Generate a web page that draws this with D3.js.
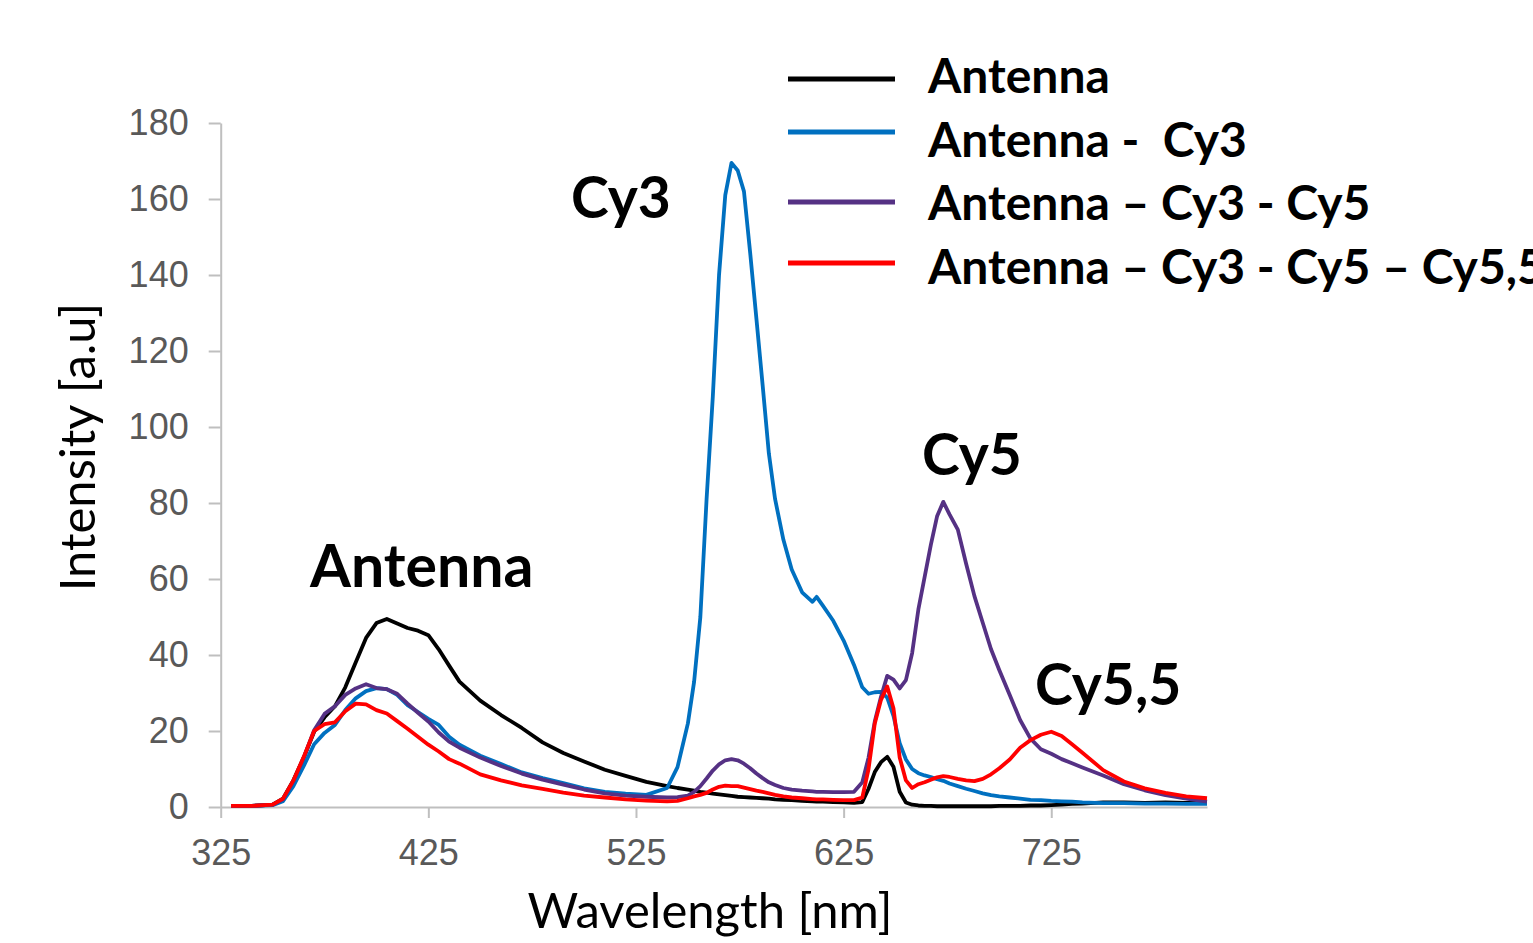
<!DOCTYPE html>
<html>
<head>
<meta charset="utf-8">
<script src="https://cdn.jsdelivr.net/npm/d3@7"></script>
<style>
  body { margin: 0; background: #fff; }
</style>
</head>
<body>
<svg id="chart" width="1533" height="943"></svg>
<script>
// wavelength grid (nm)
var wavelength = [
  330,340,350,355,360,365,370,375,380,385,
  390,395,400,405,410,415,420,425,430,435,
  440,450,460,470,480,490,500,510,520,530,
  540,545,550,553,556,559,562,565,568,571,
  574,577,580,583,586,589,592,596,600,605,
  610,612,615,620,625,630,634,637,640,643,
  646,649,652,655,658,661,664,667,670,673,
  676,680,684,688,692,696,700,705,710,715,
  720,725,730,735,740,750,760,770,780,790,
  800
];

var antenna = [
  0.3,0.3,0.6,2.2,7.0,13.0,19.8,23.6,26.5,31.5,
  38.0,44.5,48.4,49.5,48.3,47.1,46.4,45.2,41.5,37.2,
  33.0,28.0,24.2,20.8,17.0,14.2,12.0,9.8,8.2,6.6,
  5.5,5.0,4.6,4.3,4.0,3.8,3.5,3.3,3.1,2.9,
  2.7,2.6,2.5,2.4,2.3,2.2,2.0,1.9,1.8,1.6,
  1.5,1.4,1.4,1.3,1.2,1.1,1.3,4.8,9.2,11.8,
  13.2,10.6,4.0,1.2,0.6,0.4,0.3,0.3,0.2,0.2,
  0.2,0.2,0.2,0.2,0.2,0.2,0.3,0.3,0.3,0.4,
  0.4,0.5,0.6,0.8,0.9,1.2,1.2,1.1,1.2,1.1,
  1.0
];

var antennaCy3 = [
  0.3,0.3,0.5,1.5,5.5,10.8,16.5,19.5,21.6,25.5,
  28.6,30.5,31.3,31.0,29.5,26.8,25.0,23.2,21.6,18.5,
  16.4,13.5,11.3,9.1,7.6,6.3,4.9,4.0,3.5,3.2,
  5.0,10.5,22.0,33.0,50.0,81.0,108.0,140.0,161.0,169.5,
  167.5,162.0,145.8,128.5,111.0,93.0,81.0,70.3,62.5,56.5,
  54.0,55.3,53.0,49.0,43.8,37.4,31.5,29.8,30.2,30.3,
  28.8,24.0,16.8,12.5,10.0,8.9,8.3,7.9,7.3,6.9,
  6.2,5.5,4.8,4.2,3.6,3.1,2.8,2.5,2.2,1.9,
  1.8,1.6,1.5,1.4,1.2,1.0,1.0,0.9,0.9,0.8,
  0.8
];

var antennaCy3Cy5 = [
  0.3,0.3,0.6,2.0,6.8,13.0,20.2,24.5,26.5,29.5,
  31.2,32.3,31.3,31.0,29.8,27.2,24.8,22.5,19.6,17.2,
  15.6,13.0,10.8,8.8,7.2,5.9,4.6,3.6,3.0,2.7,
  2.5,2.6,3.0,4.0,5.5,7.5,9.6,11.2,12.3,12.6,
  12.3,11.4,10.2,8.8,7.6,6.5,5.8,5.0,4.6,4.3,
  4.1,4.0,4.0,3.9,3.9,4.0,6.5,13.0,22.5,29.0,
  34.5,33.5,31.2,33.4,40.5,52.0,60.5,69.0,76.5,80.3,
  77.0,73.0,64.0,55.5,48.5,41.5,36.0,29.5,22.9,18.0,
  15.2,14.0,12.6,11.5,10.4,8.3,6.0,4.4,3.1,2.2,
  1.4
];

var antennaCy3Cy5Cy55 = [
  0.3,0.3,0.6,2.2,7.0,13.2,20.0,21.8,22.3,25.2,
  27.2,27.0,25.5,24.6,22.6,20.6,18.5,16.4,14.6,12.6,
  11.4,8.6,7.0,5.7,4.8,3.8,3.0,2.5,2.0,1.7,
  1.5,1.6,2.3,2.8,3.2,3.7,4.6,5.3,5.6,5.5,
  5.5,5.1,4.7,4.3,4.0,3.6,3.2,2.8,2.5,2.3,
  2.1,2.0,2.0,1.9,1.8,1.8,2.5,10.0,22.0,28.2,
  31.7,26.0,13.0,7.0,5.0,6.0,6.5,7.2,7.8,8.1,
  7.9,7.4,7.0,6.8,7.4,8.6,10.2,12.5,15.6,17.6,
  19.0,19.8,18.7,16.5,14.3,9.7,6.7,4.9,3.7,2.8,
  2.3
];

var seriesNames = ["Antenna", "Antenna -  Cy3", "Antenna \u2013 Cy3 - Cy5", "Antenna \u2013 Cy3 - Cy5 \u2013 Cy5,5"];
var seriesValues = [antenna, antennaCy3, antennaCy3Cy5, antennaCy3Cy5Cy55];
var seriesColors = ["#000000", "#0070c0", "#553184", "#ff0000"];

var xTicks = [325, 425, 525, 625, 725];
var yTicks = [0, 20, 40, 60, 80, 100, 120, 140, 160, 180];

var peakLabels = ["Antenna", "Cy3", "Cy5", "Cy5,5"];


var svg = d3.select("svg#chart");

var x = d3.scaleLinear().domain([325, 800]).range([220.7, 1207]);
var y = d3.scaleLinear().domain([0, 180]).range([807, 123]);

var axisColor = "#bfbfbf";
var labelColor = "#595959";

// y axis
var yAxis = svg.append("g")
  .attr("transform", "translate(" + x(325) + ",0)")
  .call(d3.axisLeft(y).tickValues(yTicks).tickSize(12).tickSizeOuter(0).tickPadding(20));

// x axis
var xAxis = svg.append("g")
  .attr("transform", "translate(0," + y(0) + ")")
  .call(d3.axisBottom(x).tickValues(xTicks).tickSize(11).tickSizeOuter(0).tickPadding(21));

for (var ax of [xAxis, yAxis]) {
  ax.select(".domain").attr("stroke", axisColor).attr("stroke-width", 2);
  ax.selectAll(".tick line").attr("stroke", axisColor).attr("stroke-width", 2);
  ax.selectAll(".tick text")
    .attr("fill", labelColor)
    .style("font-family", "'Liberation Sans', Arial, sans-serif")
    .style("font-size", "36px");
}


// spectra
var line = d3.line()
  .x((d, i) => x(wavelength[i]))
  .y(d => y(d));

svg.selectAll("path.spectrum")
  .data(seriesValues)
  .enter().append("path")
  .attr("class", "spectrum")
  .attr("fill", "none")
  .attr("stroke", (d, i) => seriesColors[i])
  .attr("stroke-width", 3.8)
  .attr("stroke-linejoin", "round")
  .attr("d", line);


// axis titles
svg.append("text")
  .attr("x", 710)
  .attr("y", 928)
  .attr("text-anchor", "middle")
  .style("font-family", "Lato, sans-serif")
  .style("font-size", "49px")
  .text("Wavelength [nm]");

svg.append("text")
  .attr("transform", "translate(95,447) rotate(-90)")
  .attr("text-anchor", "middle")
  .style("font-family", "Lato, sans-serif")
  .style("font-size", "49px")
  .text("Intensity [a.u]");


// peak labels
var peakPos = [[310, 587], [571, 218], [922, 475], [1035, 705]];

svg.selectAll("text.peak")
  .data(peakLabels)
  .enter().append("text")
  .attr("class", "peak")
  .attr("x", (d, i) => peakPos[i][0])
  .attr("y", (d, i) => peakPos[i][1])
  .style("font-family", "Lato, sans-serif")
  .style("font-weight", "bold")
  .style("font-size", (d, i) => i == 0 ? "59px" : "57px")
  .text(d => d);


// legend
var legendLineY = [79, 132, 202, 263];
var legendTextY = [93, 157, 220, 284];

var legend = svg.selectAll("g.legendItem")
  .data(seriesNames)
  .enter().append("g")
  .attr("class", "legendItem");

legend.append("line")
  .attr("x1", 788)
  .attr("x2", 895)
  .attr("y1", (d, i) => legendLineY[i])
  .attr("y2", (d, i) => legendLineY[i])
  .attr("stroke", (d, i) => seriesColors[i])
  .attr("stroke-width", 5);

legend.append("text")
  .attr("x", 928)
  .attr("y", (d, i) => legendTextY[i])
  .attr("xml:space", "preserve")
  .style("white-space", "pre")
  .style("font-family", "Lato, sans-serif")
  .style("font-weight", "bold")
  .style("font-size", "48px")
  .text(d => d);
</script>
</body>
</html>
